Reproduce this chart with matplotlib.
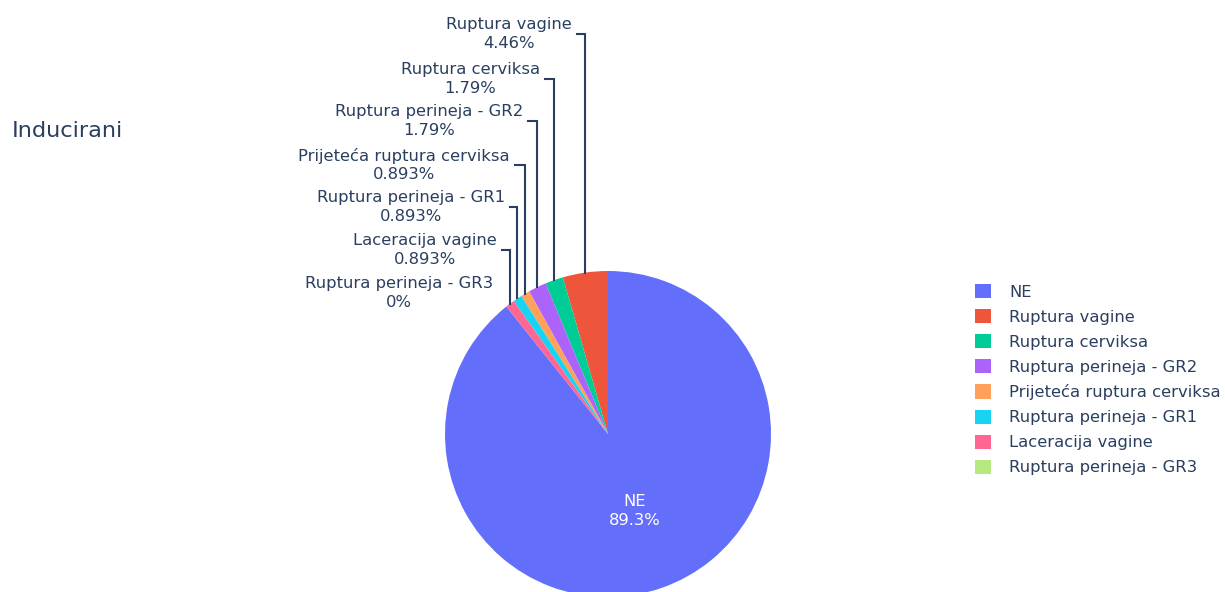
import numpy as np
import matplotlib.pyplot as plt

# pie data (order as in the legend)
labels = ['NE', 'Ruptura vagine', 'Ruptura cerviksa', 'Ruptura perineja - GR2',
          'Prijeteća ruptura cerviksa', 'Ruptura perineja - GR1', 'Laceracija vagine',
          'Ruptura perineja - GR3']
counts = [100, 5, 2, 2, 1, 1, 1, 0]
colors = ['#636efa', '#EF553B', '#00cc96', '#ab63fa', '#FFA15A', '#19d3f3', '#FF6692', '#B6E880']
title = 'Inducirani'

# outside label layout (image pixels from top): block centre y, right edge x
label_y = [34, 79, 121, 165, 207, 250, 293]
label_right = [572, 540, 523, 510, 505, 497, 493]

plt.rcParams['font.family'] = ['DejaVu Sans']
txt_col = '#2a3f5f'
fs = 11.8

W, H = 1225, 592
fig = plt.figure(figsize=(W / 100, H / 100), dpi=100)
ax = fig.add_axes([0, 0, 1, 1])

cx, cy, r = 608, H - 434, 163
total = sum(counts)
start = 90 - 360 * counts[0] / total  # first slice ends at 12 o'clock
wedges, _ = ax.pie(counts, colors=colors, startangle=start, counterclock=True,
                   center=(cx, cy), radius=r, wedgeprops=dict(linewidth=0))
ax.set_xlim(0, W)
ax.set_ylim(0, H)
ax.set_aspect('equal')
ax.axis('off')

def pct(v):
    return '{:.3g}%'.format(100.0 * v / total)

# inside label for the big slice
w = wedges[0]
mid = np.deg2rad((w.theta1 + w.theta2) / 2)
ax.text(cx + 0.5 * r * np.cos(mid), cy + 0.5 * r * np.sin(mid), labels[0] + '\n' + pct(counts[0]),
        ha='center', va='center', multialignment='center', color='white', fontsize=fs,
        linespacing=1.32)

# outside labels with leader lines
for i in range(1, len(counts)):
    w = wedges[i]
    mid = np.deg2rad((w.theta1 + w.theta2) / 2)
    ex, ey = cx + r * np.cos(mid), cy + r * np.sin(mid)
    ly = H - label_y[i - 1]
    rx = label_right[i - 1]
    if counts[i] > 0:
        ax.plot([ex, ex, rx + 5], [ey, ly, ly], color=txt_col, lw=1.5, solid_joinstyle='miter')
    ax.text(rx, ly, labels[i] + '\n' + pct(counts[i]), ha='right', va='center',
            multialignment='center', color=txt_col, fontsize=fs, linespacing=1.32)

ax.text(12, H - 131, title, fontsize=16.2, va='center', ha='left', color=txt_col)

leg = ax.legend(wedges, labels, loc='upper left', bbox_to_anchor=(975 / W, 1 - 284 / H),
                frameon=False, fontsize=fs, handlelength=0.95, handleheight=0.95,
                handletextpad=1.15, labelspacing=0.57, borderpad=0, borderaxespad=0)
for t in leg.get_texts():
    t.set_color(txt_col)

fig.savefig('out.png', dpi=100)
